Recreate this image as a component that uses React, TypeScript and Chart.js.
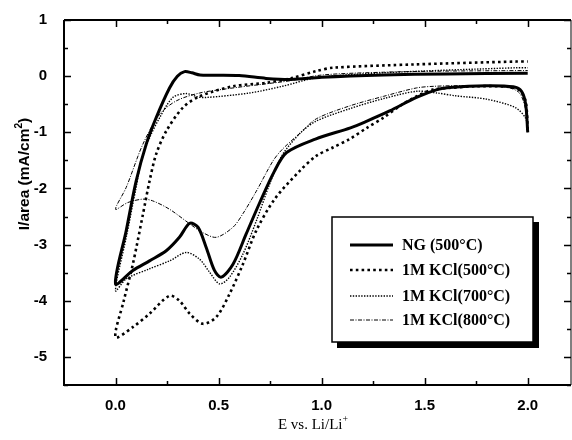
import React, { useEffect, useRef } from "react";
import { Chart, registerables } from "chart.js";

Chart.register(...registerables);

// ---- data (E in V vs Li/Li+, I/area in mA/cm^2) ----
const ngE = [2.0, 1.99, 1.97, 1.93, 1.8, 1.62, 1.56, 1.46, 1.33, 1.22, 1.14, 0.97, 0.83, 0.77, 0.7, 0.634, 0.57, 0.513, 0.48, 0.44, 0.4, 0.36, 0.31, 0.246, 0.165, 0.084, 0.0,
  0.052, 0.1, 0.149, 0.197, 0.262, 0.3, 0.335, 0.37, 0.41, 0.6, 0.73, 0.85, 1.0, 1.3, 1.6, 2.0];
const ngI = [-1.0, -0.5, -0.27, -0.19, -0.17, -0.2, -0.24, -0.38, -0.62, -0.8, -0.92, -1.12, -1.36, -1.7, -2.25, -2.81, -3.35, -3.58, -3.46, -3.05, -2.69, -2.62, -2.87, -3.11, -3.29, -3.46, -3.7,
  -2.75, -1.87, -1.21, -0.74, -0.21, 0.0, 0.08, 0.06, 0.02, 0.01, -0.04, -0.06, -0.02, 0.02, 0.04, 0.05];

const k500E = [2.0, 1.99, 1.96, 1.9, 1.75, 1.62, 1.54, 1.46, 1.38, 1.3, 1.22, 1.136, 1.055, 0.974, 0.893, 0.772, 0.683, 0.618, 0.553, 0.489, 0.424, 0.36, 0.31, 0.262, 0.165, 0.084, 0.0,
  0.04, 0.084, 0.133, 0.165, 0.197, 0.246, 0.327, 0.408, 0.57, 0.73, 0.85, 0.974, 1.055, 1.46, 1.945, 2.0];
const k500I = [-0.95, -0.45, -0.25, -0.19, -0.18, -0.21, -0.24, -0.36, -0.53, -0.74, -0.92, -1.12, -1.27, -1.42, -1.69, -2.19, -2.75, -3.35, -3.88, -4.29, -4.41, -4.23, -4.0, -3.91, -4.23, -4.47, -4.65,
  -4.0, -3.35, -2.46, -1.87, -1.39, -0.98, -0.56, -0.36, -0.18, -0.12, -0.04, 0.09, 0.15, 0.21, 0.26, 0.26];

const k700E = [2.0, 1.99, 1.94, 1.8, 1.65, 1.56, 1.46, 1.3, 1.136, 0.974, 0.9, 0.81, 0.75, 0.683, 0.618, 0.553, 0.505, 0.456, 0.408, 0.343, 0.262, 0.165, 0.052, 0.0,
  0.052, 0.1, 0.125, 0.165, 0.214, 0.278, 0.343, 0.4, 0.44, 0.65, 0.81, 0.974, 1.3, 1.945, 2.0];
const k700I = [-0.95, -0.75, -0.56, -0.41, -0.35, -0.3, -0.27, -0.4, -0.58, -0.8, -1.0, -1.4, -1.9, -2.58, -3.17, -3.58, -3.7, -3.49, -3.26, -3.14, -3.29, -3.43, -3.61, -3.82,
  -2.87, -1.98, -1.51, -1.1, -0.74, -0.38, -0.31, -0.37, -0.38, -0.3, -0.18, -0.03, 0.06, 0.15, 0.15];

const k800E = [2.0, 1.99, 1.96, 1.9, 1.7, 1.55, 1.46, 1.3, 1.136, 0.974, 0.9, 0.81, 0.764, 0.683, 0.618, 0.57, 0.489, 0.42, 0.36, 0.262, 0.18, 0.133, 0.06, 0.0,
  0.052, 0.133, 0.214, 0.295, 0.408, 0.55, 0.7, 0.85, 1.0, 1.3, 1.6, 2.0];
const k800I = [-1.0, -0.6, -0.3, -0.2, -0.17, -0.18, -0.21, -0.36, -0.53, -0.76, -1.0, -1.3, -1.51, -2.05, -2.45, -2.69, -2.87, -2.78, -2.63, -2.37, -2.22, -2.19, -2.25, -2.37,
  -1.98, -1.21, -0.68, -0.44, -0.3, -0.22, -0.15, -0.08, 0.02, 0.07, 0.09, 0.1];

const seriesLabels = ["NG (500°C)", "1M KCl(500°C)", "1M KCl(700°C)", "1M KCl(800°C)"];
const xTicks = [0, 0.5, 1.0, 1.5, 2.0];
const yTicks = [-5, -4, -3, -2, -1, 0, 1];

const styles = [
  { width: 3, dash: [] as number[] },
  { width: 2.6, dash: [2.6, 3.2] },
  { width: 1.4, dash: [1.4, 1.4] },
  { width: 1, dash: [4, 1.5, 1, 1.5] },
];

function pts(xs: number[], ys: number[]) {
  return xs.map((x, i) => ({ x, y: ys[i] }));
}

function drawRich(ctx: CanvasRenderingContext2D, parts: { t: string; sup?: boolean }[], font: (s: number) => string, size: number, cx: number, cy: number) {
  let w = 0;
  for (const p of parts) {
    ctx.font = font(p.sup ? size * 0.65 : size);
    w += ctx.measureText(p.t).width;
  }
  let x = cx - w / 2;
  ctx.textBaseline = "middle";
  ctx.textAlign = "left";
  for (const p of parts) {
    ctx.font = font(p.sup ? size * 0.65 : size);
    ctx.fillText(p.t, x, p.sup ? cy - size * 0.35 : cy);
    x += ctx.measureText(p.t).width;
  }
}

const framePlugin = {
  id: "framePlugin",
  afterDatasetsDraw(chart: any) {
    const ctx: CanvasRenderingContext2D = chart.ctx;
    const { left, right, top, bottom } = chart.chartArea;
    const xs = chart.scales.x;
    const ys = chart.scales.y;
    ctx.save();
    ctx.strokeStyle = "#000";
    ctx.fillStyle = "#000";
    ctx.setLineDash([]);
    ctx.lineWidth = 2;
    ctx.beginPath();
    ctx.moveTo(left, top);
    ctx.lineTo(left, bottom);
    ctx.lineTo(right, bottom);
    ctx.stroke();
    ctx.beginPath();
    ctx.moveTo(left, top);
    ctx.lineTo(right, top);
    ctx.stroke();
    ctx.lineWidth = 1;
    ctx.beginPath();
    ctx.moveTo(right, top);
    ctx.lineTo(right, bottom);
    ctx.stroke();
    ctx.lineWidth = 1.5;
    for (let v = 0; v <= 2.001; v += 0.25) {
      const px = Math.round(xs.getPixelForValue(v)) + 0.5;
      const major = Math.abs(v * 2 - Math.round(v * 2)) < 1e-6;
      const len = major ? 7 : 4;
      ctx.beginPath();
      ctx.moveTo(px, bottom);
      ctx.lineTo(px, bottom - len);
      ctx.moveTo(px, top);
      ctx.lineTo(px, top + len);
      ctx.stroke();
    }
    for (let v = -5.5; v <= 1.001; v += 0.5) {
      const py = Math.round(ys.getPixelForValue(v)) + 0.5;
      const major = Math.abs(v - Math.round(v)) < 1e-6;
      const len = major ? 7 : 4;
      ctx.beginPath();
      ctx.moveTo(left, py);
      ctx.lineTo(left + len, py);
      ctx.moveTo(right, py);
      ctx.lineTo(right - len, py);
      ctx.stroke();
    }
    ctx.fillStyle = "#000";
    drawRich(ctx, [{ t: "E vs. Li/Li" }, { t: "+", sup: true }], (s) => `${s}px "Liberation Serif"`, 15, 313, 425);
    ctx.save();
    ctx.translate(25, 174);
    ctx.rotate(-Math.PI / 2);
    drawRich(ctx, [{ t: "I/area (mA/cm" }, { t: "2", sup: true }, { t: ")" }], (s) => `bold ${s}px "Liberation Sans"`, 15.5, 0, 0);
    ctx.restore();

    const bx = 332, by = 217, bw = 201, bh = 125;
    ctx.fillStyle = "#000";
    ctx.fillRect(bx + 5, by + 5, bw + 1, bh + 1);
    ctx.fillStyle = "#fff";
    ctx.fillRect(bx, by, bw, bh);
    ctx.lineWidth = 1.5;
    ctx.strokeStyle = "#000";
    ctx.strokeRect(bx, by, bw, bh);
    const rows = [245, 270, 296, 320];
    seriesLabels.forEach((lab, i) => {
      const st = styles[i];
      ctx.lineWidth = st.width;
      ctx.setLineDash(st.dash);
      ctx.beginPath();
      ctx.moveTo(350, rows[i]);
      ctx.lineTo(393, rows[i]);
      ctx.stroke();
      ctx.setLineDash([]);
      ctx.fillStyle = "#000";
      ctx.font = 'bold 16px "Liberation Serif"';
      ctx.textAlign = "left";
      ctx.textBaseline = "middle";
      ctx.fillText(lab, 402, rows[i] + 1);
    });
    ctx.restore();
  },
};

export default function App() {
  const ref = useRef<HTMLCanvasElement | null>(null);
  useEffect(() => {
    document.body.style.margin = "0";
    const canvas = ref.current!;
    const allData = [pts(ngE, ngI), pts(k500E, k500I), pts(k700E, k700I), pts(k800E, k800I)];
    const chart = new Chart(canvas, {
      type: "scatter",
      data: {
        datasets: allData.map((d, i) => ({
          label: seriesLabels[i],
          data: d,
          showLine: true,
          borderColor: "#000",
          backgroundColor: "#000",
          borderWidth: styles[i].width,
          borderDash: styles[i].dash,
          pointRadius: 0,
          tension: 0.3,
        })),
      },
      options: {
        responsive: false,
        animation: false,
        devicePixelRatio: 1,
        layout: { padding: { top: 20, right: 1, left: 0, bottom: 0 } },
        plugins: { legend: { display: false }, tooltip: { enabled: false } },
        scales: {
          x: {
            type: "linear",
            min: -0.25,
            max: 2.21,
            grid: { display: false },
            border: { display: false },
            ticks: { color: "#000", font: { family: "Liberation Sans", size: 15, weight: "bold" }, padding: 4, callback: (v: any) => Number(v).toFixed(1) },
            afterBuildTicks: (s: any) => { s.ticks = xTicks.map((v) => ({ value: v })); },
            afterFit: (s: any) => { s.height = 55; },
          },
          y: {
            type: "linear",
            min: -5.5,
            max: 1,
            grid: { display: false },
            border: { display: false },
            ticks: { color: "#000", font: { family: "Liberation Sans", size: 15, weight: "bold" }, padding: 9, callback: (v: any) => String(v) },
            afterBuildTicks: (s: any) => { s.ticks = yTicks.map((v) => ({ value: v })); },
            afterFit: (s: any) => { s.width = 64; },
          },
        },
      } as any,
      plugins: [framePlugin],
    });
    return () => chart.destroy();
  }, []);
  return <canvas ref={ref} width={572} height={440} style={{ display: "block" }} />;
}
